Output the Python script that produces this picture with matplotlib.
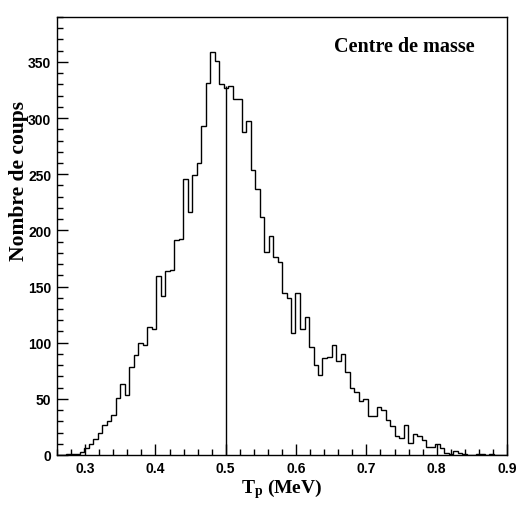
import numpy as np
import matplotlib
matplotlib.use("Agg")
import matplotlib.pyplot as plt
from matplotlib.ticker import MultipleLocator

# ---- data ----
x_min, x_max, n_bins = 0.26, 0.90, 100
counts = [
    0, 0, 1, 1, 1, 3, 6, 10, 14, 20,
    27, 30, 36, 51, 63, 53, 78, 89, 100, 98,
    114, 112, 159, 142, 164, 165, 191, 192, 246, 216,
    249, 260, 293, 331, 359, 351, 330, 327, 329, 317,
    317, 288, 297, 254, 237, 212, 181, 195, 176, 172,
    144, 140, 109, 144, 112, 123, 96, 80, 71, 86,
    87, 98, 84, 90, 74, 60, 56, 48, 50, 35,
    35, 43, 40, 31, 26, 17, 15, 27, 11, 19,
    16.5, 13, 7.5, 7.5, 10, 6, 2, 1, 4, 2,
    1, 0, 0, 1, 1, 0, 1, 0, 0, 0,
]
marker_x = 0.5
marker_top = 329
x_ticks = [0.3, 0.4, 0.5, 0.6, 0.7, 0.8, 0.9]
x_ticklabels = ["0.3", "0.4", "0.5", "0.6", "0.7", "0.8", "0.9"]
y_ticks = [0, 50, 100, 150, 200, 250, 300, 350]
y_ticklabels = [str(v) for v in y_ticks]
title_text = "Centre de masse"
y_label = "Nombre de coups"

plt.rcParams['mathtext.fontset'] = 'custom'
plt.rcParams['mathtext.rm'] = 'Liberation Serif:bold'
plt.rcParams['mathtext.it'] = 'Liberation Serif:bold'
plt.rcParams['mathtext.bf'] = 'Liberation Serif:bold'

W, H = 518, 506
fig = plt.figure(figsize=(W / 100, H / 100), dpi=100)
ax = fig.add_axes([57 / W, (H - 456) / H, (507 - 57) / W, (456 - 18) / H])

edges = np.linspace(x_min, x_max, n_bins + 1)
ax.stairs(counts, edges, color="black", lw=1.0, baseline=0)
ax.vlines(marker_x, 0, marker_top, color="black", lw=1.0)

ax.set_xlim(x_min, x_max)
ax.set_ylim(0, 390)

ax.set_xticks(x_ticks)
ax.set_xticklabels(x_ticklabels)
ax.set_yticks(y_ticks)
ax.set_yticklabels(y_ticklabels)
ax.xaxis.set_minor_locator(MultipleLocator(0.02))
ax.yaxis.set_minor_locator(MultipleLocator(10))
ax.tick_params(which="both", direction="in", top=False, right=False, width=1)
ax.tick_params(which="major", length=8, pad=4)
ax.tick_params(which="minor", length=4)
for lab in ax.get_xticklabels() + ax.get_yticklabels():
    lab.set_fontfamily("Liberation Sans")
    lab.set_fontweight("bold")
    lab.set_fontsize(10)
for s in ax.spines.values():
    s.set_linewidth(1.0)

ax.set_ylabel(y_label, fontfamily="Liberation Serif", fontweight="bold", fontsize=15.5)
ax.yaxis.set_label_coords(-0.063, 0.628)
ax.set_xlabel(r"$\mathrm{T_{p}}$ (MeV)", fontfamily="Liberation Serif", fontweight="bold", fontsize=14)
ax.xaxis.set_label_coords(0.5, -0.048)
ax.text(0.771, 0.934, title_text, transform=ax.transAxes, ha="center", va="center",
        fontfamily="Liberation Serif", fontweight="bold", fontsize=14.5)

fig.savefig("out.png", dpi=100)
